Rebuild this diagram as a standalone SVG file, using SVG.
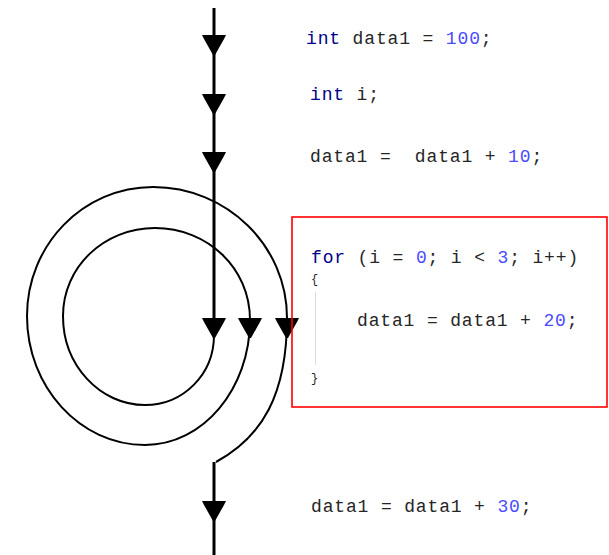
<svg xmlns="http://www.w3.org/2000/svg" width="609" height="555" viewBox="0 0 609 555">
<style>
.code{font-family:"Liberation Mono","Courier New",monospace;font-size:18px;letter-spacing:0.85px;fill:#262626;white-space:pre}
.kw{fill:#00008b}
.num{fill:#4b4bff}
.flow{fill:none;stroke:#000;stroke-width:3}
.spiral{fill:none;stroke:#000;stroke-width:2}
</style>
<defs>
<path id="ah" d="M-12,-19 L12,-19 L10,-15 L1,1 L-1,1 L-10,-15 Z" fill="#000"/>
</defs>
<g id="connectors">
<line class="flow" x1="214" y1="8" x2="214" y2="330"/>
<path class="spiral" d="M214,335 C214,374.6 183,405 145,405 C99.7,405 63,365 63,316 C63,267 104,228 155,228 C207.5,228 250,268 250,320 C250,389 203,445 145,445 C80,445 27,387 27,316 C27,245 83,187 153,187 C227,187 287,246 287,318 C287,395 262,437 216,462"/>
<line class="flow" x1="214" y1="462" x2="214" y2="555"/>
<use href="#ah" x="214" y="54"/>
<use href="#ah" x="214" y="113"/>
<use href="#ah" x="214" y="171"/>
<use href="#ah" x="214" y="337"/>
<use href="#ah" x="250" y="337"/>
<use href="#ah" x="287" y="337"/>
<use href="#ah" x="214" y="520"/>
</g>
<g id="stmt1"><text class="code" x="306" y="44"><tspan class="kw">int</tspan> data1 = <tspan class="num">100</tspan>;</text></g>
<g id="stmt2"><text class="code" x="310" y="100"><tspan class="kw">int</tspan> i;</text></g>
<g id="stmt3"><text class="code" x="310" y="162">data1 =  data1 + <tspan class="num">10</tspan>;</text></g>
<g id="loop">
<rect x="292" y="217" width="315" height="190" fill="none" stroke="#ff0000" stroke-width="1.6"/>
<text class="code" x="311" y="263"><tspan class="kw">for</tspan> (i = <tspan class="num">0</tspan>; i &lt; <tspan class="num">3</tspan>; i++)</text>
<text class="code" x="311" y="283" style="font-size:12px">{</text>
<line x1="315.5" y1="292" x2="315.5" y2="365" stroke="#dcdcdc" stroke-width="1"/>
<text class="code" x="357" y="326">data1 = data1 + <tspan class="num">20</tspan>;</text>
<text class="code" x="311" y="382" style="font-size:12px">}</text>
</g>
<g id="stmt4"><text class="code" x="311" y="512">data1 = data1 + <tspan class="num">30</tspan>;</text></g>
</svg>
